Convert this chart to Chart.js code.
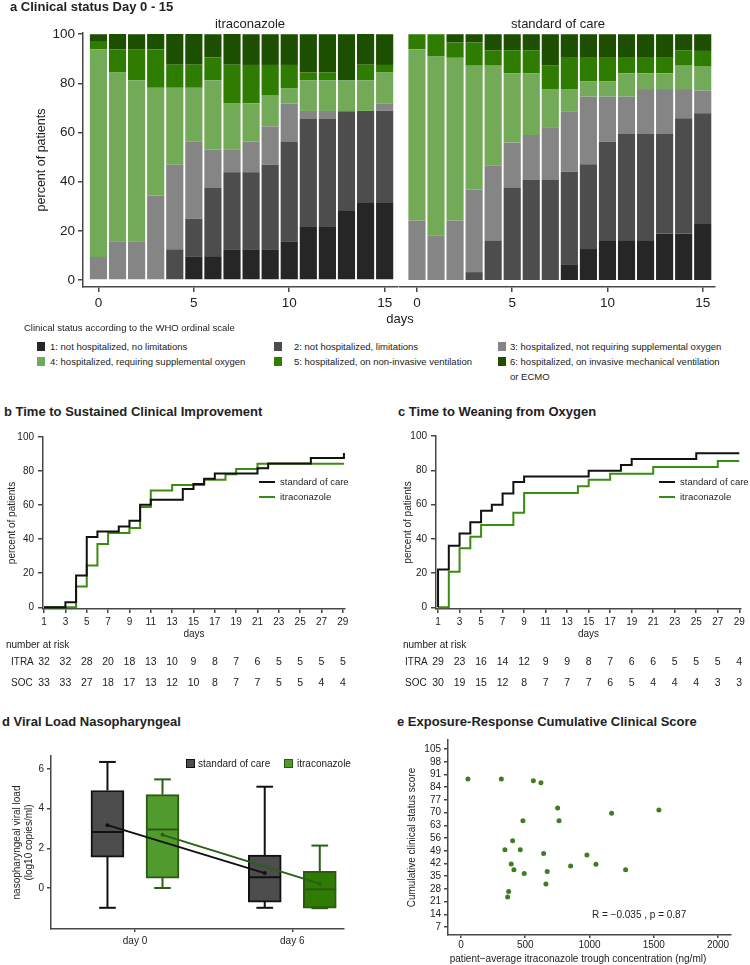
<!DOCTYPE html>
<html lang="en">
<head>
<meta charset="utf-8">
<title>Itraconazole vs standard of care</title>
<script src="https://cdn.jsdelivr.net/npm/chart.js@4.4.1/dist/chart.umd.min.js"></script>
<style>
  body { margin: 0; background: #fff; }
  #page { position: relative; width: 750px; height: 965px; overflow: hidden; font-family: 'Liberation Sans', Arial, Helvetica, sans-serif; color: #222; }
  #page canvas { position: absolute; }
  .t { position: absolute; white-space: pre; }
  .sw { position: absolute; box-sizing: border-box; }
</style>
</head>
<body>
<div id="page">
  <canvas id="chartItra" width="400" height="315" style="left:0;top:0"></canvas>
  <canvas id="chartSoc" width="322" height="315" style="left:398px;top:0"></canvas>
  <canvas id="chartSci" width="375" height="270" style="left:0;top:425px"></canvas>
  <canvas id="chartWfo" width="375" height="270" style="left:375px;top:425px"></canvas>
  <canvas id="chartViral" width="375" height="235" style="left:0;top:730px"></canvas>
  <canvas id="chartExposure" width="375" height="235" style="left:375px;top:730px"></canvas>
</div>
<script>
// ---------- panel a: clinical status day 0 - 15 (percent of patients) ----------
const statusDays = [0, 1, 2, 3, 4, 5, 6, 7, 8, 9, 10, 11, 12, 13, 14, 15]
const statusLabels = [
  '1: not hospitalized, no limitations',
  '2: not hospitalized, limitations',
  '3: hospitalized, not requiring supplemental oxygen',
  '4: hospitalized, requiring supplemental oxygen',
  '5: hospitalized, on non-invasive ventilation',
  '6: hospitalized, on invasive mechanical ventilation\nor ECMO',
]
const statusColors = ['#262626', '#4d4d4d', '#858585', '#72aa58', '#2e7d02', '#1d4f00']

const itraStatus1 = [0, 0, 0, 0, 0, 9.4, 9.4, 12.5, 12.5, 12.5, 15.6, 21.9, 21.9, 28.1, 31.3, 31.3]
const itraStatus2 = [0, 0, 0, 0, 12.5, 15.6, 28.1, 31.3, 31.3, 34.4, 40.6, 43.8, 43.8, 40.6, 37.5, 37.5]
const itraStatus3 = [9.4, 15.6, 15.6, 34.4, 34.4, 31.3, 15.6, 9.4, 12.5, 15.6, 15.6, 3.1, 3.1, 0, 0, 3.1]
const itraStatus4 = [84.4, 68.8, 65.6, 43.8, 31.3, 21.9, 28.1, 18.8, 15.6, 12.5, 6.3, 12.5, 12.5, 12.5, 12.5, 12.5]
const itraStatus5 = [3.1, 9.4, 12.5, 15.6, 9.4, 9.4, 9.4, 15.6, 15.6, 12.5, 9.4, 3.1, 3.1, 0, 6.3, 3.1]
const itraStatus6 = [3.1, 6.3, 6.3, 6.3, 12.5, 12.5, 9.4, 12.5, 12.5, 12.5, 12.5, 15.6, 15.6, 18.8, 12.5, 12.5]

const socStatus1 = [0, 0, 0, 0, 0, 0, 0, 0, 6.4, 12.6, 15.9, 15.9, 15.9, 18.9, 18.9, 22.8]
const socStatus2 = [0, 0, 0, 3.2, 15.9, 37.6, 40.7, 40.7, 37.6, 34.5, 40.5, 43.7, 43.7, 40.7, 46.9, 45.0]
const socStatus3 = [24.2, 18.2, 24.2, 33.6, 30.6, 18.3, 18.3, 21.4, 24.4, 27.5, 18.2, 15.0, 18.1, 18.1, 11.9, 9.3]
const socStatus4 = [69.7, 72.7, 66.2, 50.4, 40.7, 28.2, 25.1, 15.6, 9.3, 6.3, 6.3, 9.5, 6.4, 6.4, 9.5, 9.7]
const socStatus5 = [6.1, 9.1, 6.2, 9.4, 6.3, 9.4, 9.4, 9.5, 12.7, 9.5, 9.5, 6.3, 6.3, 6.3, 6.3, 6.4]
const socStatus6 = [0, 0, 3.4, 3.4, 6.5, 6.5, 6.5, 12.8, 9.6, 9.6, 9.6, 9.6, 9.6, 9.6, 6.5, 6.8]

const pctTicks = [0, 20, 40, 60, 80, 100]
const statusDayTicks = [0, 5, 10, 15]

// ---------- panels b / c: step curves and number at risk ----------
const kmDayTicks = [1, 3, 5, 7, 9, 11, 13, 15, 17, 19, 21, 23, 25, 27, 29]

const sciDaysSoc = [1, 3, 4, 5, 6, 8, 9, 10, 11, 14, 15, 16, 17, 21, 22, 26, 29.1]
const sciPctSoc = [0, 3, 18.6, 41.3, 44.5, 47.5, 50.8, 60.2, 63.1, 69.4, 72.4, 75.5, 78.6, 81.6, 84.5, 87.6, 90.6]
const sciDaysItra = [1, 4, 5, 6, 7, 9, 10, 11, 13, 16, 18, 19, 21, 29.1]
const sciPctItra = [0, 12.2, 24.6, 37.2, 43.7, 46.6, 58.9, 68.6, 71.8, 74.9, 78.1, 81.2, 84.3, 84.3]
const sciRiskItra = [32, 32, 28, 20, 18, 13, 10, 9, 8, 7, 6, 5, 5, 5, 5]
const sciRiskSoc = [33, 33, 27, 18, 17, 13, 12, 10, 8, 7, 7, 5, 5, 4, 4]

const wfoDaysSoc = [1, 1, 2, 3, 4, 5, 6, 7, 8, 9, 15, 18, 19, 25, 29]
const wfoPctSoc = [0, 22, 35.9, 43.1, 49.7, 56.3, 59.8, 66.5, 73.1, 76.4, 79.7, 83.1, 86.5, 89.9, 89.9]
const wfoDaysItra = [1, 2, 3, 4, 5, 8, 9, 14, 15, 17, 21, 27, 29]
const wfoPctItra = [0, 20.7, 34.4, 41.2, 48.1, 55.2, 66.7, 70.6, 74.5, 78.0, 81.9, 85.4, 85.4]
const wfoRiskItra = [29, 23, 16, 14, 12, 9, 9, 8, 7, 6, 6, 5, 5, 5, 4]
const wfoRiskSoc = [30, 19, 15, 12, 8, 7, 7, 7, 6, 5, 4, 4, 4, 3, 3]

// ---------- panel d: viral load box plots ----------
const vlGroups = ['day 0', 'day 6']
const vlSocLow = [-1.0, -1.0]
const vlSocQ1 = [1.56, -0.71]
const vlSocMedian = [2.82, 0.54]
const vlSocQ3 = [4.92, 1.66]
const vlSocHigh = [6.36, 5.11]
const vlSocMean = [3.17, 0.75]
const vlItraLow = [0.0, -1.02]
const vlItraQ1 = [0.5, -1.02]
const vlItraMedian = [2.95, -0.07]
const vlItraQ3 = [4.71, 0.84]
const vlItraHigh = [5.48, 2.14]
const vlItraMean = [2.68, 0.22]
const vlTicks = [0, 2, 4, 6]

// ---------- panel e: exposure-response ----------
const troughConc = [54, 314, 563, 622, 752, 763, 482, 402, 342, 461, 643, 980, 853, 391, 412, 492, 671, 661, 371, 363, 1172, 1540, 1050, 1281]
const clinicalScore = [88.5, 88.5, 87.5, 86.4, 72.5, 65.5, 65.5, 54.5, 49.6, 49.6, 47.5, 46.6, 40.6, 41.7, 38.5, 36.5, 37.6, 30.7, 26.6, 23.5, 69.6, 71.4, 41.5, 38.5]
const concTicks = [0, 500, 1000, 1500, 2000]
const scoreTicks = [7, 14, 21, 28, 35, 42, 49, 56, 63, 70, 77, 84, 91, 98, 105]

// ---------- shared settings ----------
const fontFamily = "'Liberation Sans', Arial, Helvetica, sans-serif"
Chart.defaults.font.family = fontFamily
Chart.defaults.color = '#222'
Chart.defaults.animation = false
Chart.defaults.plugins.legend.display = false
Chart.defaults.plugins.tooltip.enabled = false

const axisColor = '#484848'
const socColor = '#111111'
const itraColor = '#3d8c12'

function makeAxis({ size = 10, ticks, labels, min, max, fit, title, tickLength = 5, pad = 3, display = true, stacked = false }) {
  return {
    type: 'linear',
    display,
    stacked,
    min,
    max,
    offset: false,
    border: { color: axisColor, width: 1.5 },
    grid: { drawOnChartArea: false, color: axisColor, lineWidth: 1.5, tickLength, offset: false },
    ticks: {
      font: { size },
      color: '#222',
      autoSkip: false,
      maxRotation: 0,
      padding: pad,
      callback: labels ? (v, i) => labels[i] : v => v,
    },
    title: title
      ? { display: true, text: title.text, font: { size: title.size || size }, color: '#222', padding: title.padding || { top: 4, bottom: 4 } }
      : { display: false },
    afterBuildTicks: ticks ? s => { s.ticks = ticks.map(v => ({ value: v })) } : undefined,
    afterFit: fit && display ? s => { if (s.isHorizontal()) s.height = fit; else s.width = fit } : undefined,
  }
}

const page = document.getElementById('page')
function addText(text, x, y, size, opts = {}) {
  const el = document.createElement('div')
  el.className = 't'
  el.textContent = text
  const lh = opts.lineHeight || Math.round(size * 1.25)
  el.style.fontSize = size + 'px'
  el.style.lineHeight = lh + 'px'
  el.style.left = x + 'px'
  el.style.top = (y - lh / 2) + 'px'
  if (opts.bold) el.style.fontWeight = 'bold'
  if (opts.center) el.style.transform = 'translateX(-50%)'
  page.appendChild(el)
  return el
}
function addSwatch(x, y, w, h, fill, edge) {
  const el = document.createElement('div')
  el.className = 'sw'
  el.style.left = x + 'px'
  el.style.top = (y - h / 2) + 'px'
  el.style.width = w + 'px'
  el.style.height = h + 'px'
  el.style.background = fill
  if (edge) el.style.border = '1px solid ' + edge
  page.appendChild(el)
}

// legend drawn inside the plot area (panels b, c)
const innerLegendPlugin = {
  id: 'innerLegend',
  afterDraw(chart, args, opts) {
    if (opts.x === undefined) return
    const ctx = chart.ctx
    ctx.save()
    ctx.font = '9.5px ' + fontFamily
    ctx.textBaseline = 'middle'
    ctx.textAlign = 'left'
    chart.data.datasets.forEach((ds, i) => {
      const y = opts.y + i * opts.gap
      ctx.strokeStyle = ds.borderColor
      ctx.lineWidth = 2
      ctx.beginPath()
      ctx.moveTo(opts.x, y)
      ctx.lineTo(opts.x + 16, y)
      ctx.stroke()
      ctx.fillStyle = '#222'
      ctx.fillText(ds.label, opts.x + 21, y)
    })
    ctx.restore()
  },
}

// number at risk table under panels b, c, aligned on the x scale
const riskTablePlugin = {
  id: 'riskTable',
  afterDraw(chart, args, opts) {
    if (!opts.rows) return
    const ctx = chart.ctx
    const xs = chart.scales.x
    ctx.save()
    ctx.fillStyle = '#222'
    ctx.textBaseline = 'middle'
    ctx.font = '10px ' + fontFamily
    ctx.textAlign = 'left'
    ctx.fillText('number at risk', opts.titleX, opts.titleY)
    opts.rows.forEach((row, r) => {
      ctx.font = '10px ' + fontFamily
      ctx.textAlign = 'left'
      ctx.fillText(row.label, opts.labelX, opts.rowY[r])
      ctx.font = '10.5px ' + fontFamily
      ctx.textAlign = 'center'
      row.values.forEach((v, i) => ctx.fillText(String(v), xs.getPixelForValue(opts.days[i]), opts.rowY[r]))
    })
    ctx.restore()
  },
}

// ---------- panel a ----------
function statusChart(id, series, xMin, xMax, padding, showY) {
  return new Chart(document.getElementById(id), {
    type: 'bar',
    data: {
      datasets: series.map((values, k) => ({
        label: statusLabels[k],
        data: statusDays.map((d, i) => ({ x: d, y: values[i] })),
        backgroundColor: statusColors[k],
        borderWidth: 0,
        categoryPercentage: 0.9,
        barPercentage: 1,
      })),
    },
    options: {
      responsive: false,
      devicePixelRatio: 1,
      layout: { padding },
      scales: {
        x: makeAxis({ size: 13.5, min: xMin, max: xMax, ticks: statusDayTicks, fit: 24, tickLength: 5, pad: 3, stacked: true }),
        y: makeAxis({
          size: 13.5, min: -2.85, max: 100.5, ticks: pctTicks, fit: 53, display: showY, stacked: true,
          title: { text: 'percent of patients', size: 12.5 }, tickLength: 5, pad: 3,
        }),
      },
    },
  })
}
statusChart('chartItra', [itraStatus1, itraStatus2, itraStatus3, itraStatus4, itraStatus5, itraStatus6],
  -0.81, 15.7, { left: 30, top: 33, right: 2, bottom: 4 }, true)
statusChart('chartSoc', [socStatus1, socStatus2, socStatus3, socStatus4, socStatus5, socStatus6],
  -0.89, 15.645, { left: 2, top: 33, right: 5, bottom: 4 }, false)

addText('a Clinical status Day 0 - 15', 10, 7, 13, { bold: true })
addText('itraconazole', 250, 24, 13, { center: true })
addText('standard of care', 558, 24, 13, { center: true })
addText('days', 400, 319, 13, { center: true })
addText('Clinical status according to the WHO ordinal scale', 24, 328, 9.5)
const legendSwatchX = [37, 274, 498]
const legendTextX = [50, 294, 510]
const legendRowY = [346, 361]
statusLabels.forEach((lab, k) => {
  const col = k % 3
  const row = Math.floor(k / 3)
  addSwatch(legendSwatchX[col], legendRowY[row], 8, 9, statusColors[k])
  addText(lab, legendTextX[col], legendRowY[row], 9.5, { lineHeight: 15 })
})

// ---------- panels b, c ----------
function stepChart(id, curves, risk, lay) {
  return new Chart(document.getElementById(id), {
    type: 'line',
    data: {
      datasets: curves.map(c => ({
        label: c.label,
        data: c.days.map((d, i) => ({ x: d, y: c.pct[i] })),
        borderColor: c.color,
        borderWidth: 2,
        stepped: true,
        pointRadius: 0,
        fill: false,
      })),
    },
    options: {
      responsive: false,
      devicePixelRatio: 1,
      layout: { padding: lay.padding },
      scales: {
        x: makeAxis({ min: lay.xMin, max: lay.xMax, ticks: kmDayTicks, fit: 31, tickLength: 4, pad: 3,
          title: { text: 'days', padding: { top: 0, bottom: 0 } } }),
        y: makeAxis({ min: -1, max: 100, ticks: pctTicks, fit: lay.yWidth, tickLength: 5, pad: 4,
          title: { text: 'percent of patients' } }),
      },
      plugins: {
        innerLegend: lay.legend,
        riskTable: {
          rows: [{ label: 'ITRA', values: risk.itra }, { label: 'SOC', values: risk.soc }],
          days: kmDayTicks,
          titleX: lay.tableTitleX, titleY: 220, labelX: lay.tableLabelX, rowY: [237, 258],
        },
      },
    },
    plugins: [innerLegendPlugin, riskTablePlugin],
  })
}
stepChart('chartSci', [
  { label: 'standard of care', days: sciDaysSoc, pct: sciPctSoc, color: socColor },
  { label: 'itraconazole', days: sciDaysItra, pct: sciPctItra, color: itraColor },
], { itra: sciRiskItra, soc: sciRiskSoc }, {
  padding: { left: 2.5, top: 12, right: 30, bottom: 55 }, yWidth: 40.5, xMin: 0.9, xMax: 29.2,
  legend: { x: 259, y: 57, gap: 15 }, tableTitleX: 6, tableLabelX: 11,
})
stepChart('chartWfo', [
  { label: 'standard of care', days: wfoDaysSoc, pct: wfoPctSoc, color: socColor },
  { label: 'itraconazole', days: wfoDaysItra, pct: wfoPctItra, color: itraColor },
], { itra: wfoRiskItra, soc: wfoRiskSoc }, {
  padding: { left: 23, top: 11, right: 9, bottom: 55 }, yWidth: 38, xMin: 0.81, xMax: 29.16,
  legend: { x: 284, y: 57, gap: 15 }, tableTitleX: 28, tableLabelX: 30,
})
addText('b Time to Sustained Clinical Improvement', 4, 412, 13, { bold: true })
addText('c Time to Weaning from Oxygen', 398, 412, 13, { bold: true })

// ---------- panel d ----------
const dodge = 0.175
const capHalf = 0.053
const boxHalf = 0.104
const vlArms = [
  { shift: -dodge, low: vlSocLow, q1: vlSocQ1, med: vlSocMedian, q3: vlSocQ3, high: vlSocHigh, mean: vlSocMean,
    fill: ['#4d4d4d', '#4d4d4d'], edge: '#111111', line: '#111111' },
  { shift: dodge, low: vlItraLow, q1: vlItraQ1, med: vlItraMedian, q3: vlItraQ3, high: vlItraHigh, mean: vlItraMean,
    fill: ['#519a2d', '#2e7d02'], edge: '#2b5a12', line: '#2b5f14' },
]
function segment(points, color, order, width = 2) {
  return { type: 'line', data: points, borderColor: color, borderWidth: width, pointRadius: 0, fill: false, order }
}
const boxData = []
const boxFill = []
const boxEdge = []
const vlDatasets = []
vlArms.forEach(arm => {
  vlGroups.forEach((g, i) => {
    const x = i + arm.shift
    boxData.push({ x, y: [arm.q1[i], arm.q3[i]] })
    boxFill.push(arm.fill[i])
    boxEdge.push(arm.edge)
    vlDatasets.push(segment([{ x, y: arm.q3[i] }, { x, y: arm.high[i] }], arm.line, 3))
    vlDatasets.push(segment([{ x: x - capHalf, y: arm.high[i] }, { x: x + capHalf, y: arm.high[i] }], arm.line, 3))
    vlDatasets.push(segment([{ x, y: arm.q1[i] }, { x, y: arm.low[i] }], arm.line, 3))
    vlDatasets.push(segment([{ x: x - capHalf, y: arm.low[i] }, { x: x + capHalf, y: arm.low[i] }], arm.line, 3))
    vlDatasets.push(segment([{ x: x - boxHalf, y: arm.med[i] }, { x: x + boxHalf, y: arm.med[i] }], arm.edge, 1))
  })
  vlDatasets.push({
    type: 'line',
    data: vlGroups.map((g, i) => ({ x: i + arm.shift, y: arm.mean[i] })),
    borderColor: arm.line, borderWidth: 2, pointRadius: 2, pointBackgroundColor: arm.line, pointBorderWidth: 0,
    fill: false, order: 0,
  })
})
vlDatasets.push({
  type: 'bar', data: boxData, backgroundColor: boxFill, borderColor: boxEdge, borderWidth: 2,
  borderSkipped: false, barThickness: 33, order: 2,
})
new Chart(document.getElementById('chartViral'), {
  type: 'bar',
  data: { datasets: vlDatasets },
  options: {
    responsive: false,
    devicePixelRatio: 1,
    layout: { padding: { left: 7, top: 26, right: 31, bottom: 16 } },
    scales: {
      x: makeAxis({ min: -0.534, max: 1.329, ticks: [0, 1], labels: vlGroups, fit: 20, tickLength: 3, pad: 3 }),
      y: makeAxis({ min: -2.07, max: 6.66, ticks: vlTicks, fit: 44, tickLength: 4, pad: 3,
        title: { text: ['nasopharyngeal viral load', '(log10 copies/ml)'] } }),
    },
  },
})
addText('d Viral Load Nasopharyngeal', 2, 722, 13, { bold: true })
addSwatch(186, 763, 9, 9, '#4d4d4d', '#111')
addText('standard of care', 198, 763, 10)
addSwatch(284, 763, 9, 9, '#519a2d', '#2b5a12')
addText('itraconazole', 297, 763, 10)

// ---------- panel e ----------
new Chart(document.getElementById('chartExposure'), {
  type: 'scatter',
  data: {
    datasets: [{
      label: 'patients',
      data: troughConc.map((c, i) => ({ x: c, y: clinicalScore[i] })),
      backgroundColor: '#3e7d22',
      borderWidth: 0,
      pointRadius: 2.5,
    }],
  },
  options: {
    responsive: false,
    devicePixelRatio: 1,
    layout: { padding: { left: 27, top: 10, right: 19, bottom: 0 } },
    scales: {
      x: makeAxis({ min: -101, max: 2101, ticks: concTicks, fit: 30, tickLength: 3, pad: 1 }),
      y: makeAxis({ min: 2.6, max: 110, ticks: scoreTicks, fit: 46, tickLength: 4, pad: 3,
        title: { text: 'Cumulative clinical status score' } }),
    },
  },
})
addText('e Exposure-Response Cumulative Clinical Score', 397, 722, 13, { bold: true })
addText('patient\u2212average itraconazole trough concentration (ng/ml)', 578, 958, 10, { center: true })
addText('R = \u22120.035 , p = 0.87', 592, 914, 10)
</script>
</body>
</html>
